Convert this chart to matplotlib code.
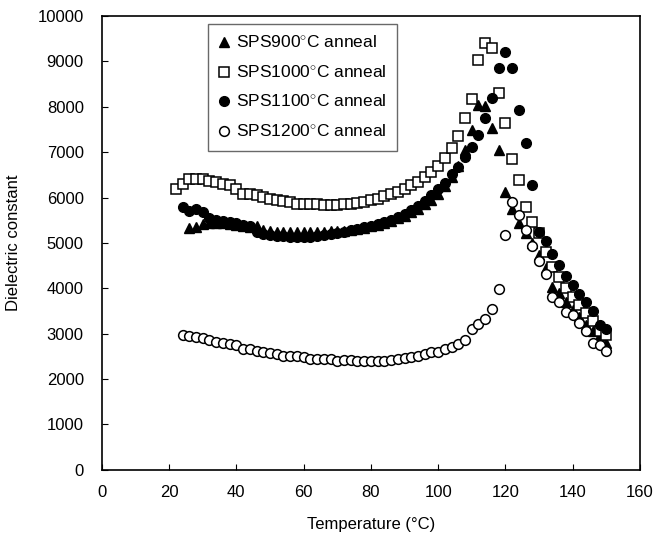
import matplotlib
matplotlib.use('Agg')
import matplotlib.pyplot as plt
import numpy as np

plt.rcParams['font.family'] = ['Liberation Sans', 'DejaVu Sans']
plt.rcParams['mathtext.fontset'] = 'custom'
plt.rcParams['mathtext.rm'] = 'Liberation Sans'

# SPS900C anneal (triangles)
t900 = [26, 28, 30, 32, 34, 36, 38, 40, 42, 44, 46, 48, 50, 52, 54, 56, 58, 60,
        62, 64, 66, 68, 70, 72, 74, 76, 78, 80, 82, 84, 86, 88, 90, 92, 94, 96,
        98, 100, 102, 104, 106, 108, 110, 112, 114, 116, 118, 120, 122, 124, 126,
        128, 130, 132, 134, 136, 138, 140, 142, 144, 146, 148, 150]
e900 = [5320, 5360, 5420, 5440, 5450, 5440, 5420, 5400, 5380, 5350, 5380, 5280,
        5260, 5250, 5240, 5240, 5240, 5240, 5240, 5245, 5250, 5255, 5260, 5275,
        5290, 5310, 5340, 5370, 5400, 5440, 5490, 5540, 5600, 5680, 5760, 5850,
        5950, 6080, 6250, 6450, 6700, 7050, 7490, 8040, 8020, 7530, 7060, 6130,
        5760, 5450, 5210, 4990, 4740, 4440, 4040, 3890, 3690, 3520, 3380, 3190,
        3050, 2970, 2790]

# SPS1000C anneal (open squares)
t1000 = [22, 24, 26, 28, 30, 32, 34, 36, 38, 40, 42, 44, 46, 48, 50, 52, 54, 56,
         58, 60, 62, 64, 66, 68, 70, 72, 74, 76, 78, 80, 82, 84, 86, 88, 90, 92,
         94, 96, 98, 100, 102, 104, 106, 108, 110, 112, 114, 116, 118, 120, 122,
         124, 126, 128, 130, 132, 134, 136, 138, 140, 142, 144, 146, 148, 150]
e1000 = [6200, 6300, 6410, 6420, 6410, 6370, 6340, 6310, 6280, 6180, 6090, 6090,
         6060, 6020, 5980, 5950, 5930, 5900, 5870, 5850, 5850, 5850, 5840, 5840,
         5840, 5850, 5860, 5880, 5910, 5950, 5980, 6030, 6080, 6130, 6200, 6280,
         6350, 6460, 6570, 6700, 6870, 7100, 7350, 7750, 8170, 9040, 9400, 9290,
         8310, 7650, 6840, 6390, 5800, 5470, 5210, 4810, 4480, 4240, 4000, 3820,
         3630, 3450, 3270, 3070, 2970]

# SPS1100C anneal (filled circles)
t1100 = [24, 26, 28, 30, 32, 34, 36, 38, 40, 42, 44, 46, 48, 50, 52, 54, 56, 58,
         60, 62, 64, 66, 68, 70, 72, 74, 76, 78, 80, 82, 84, 86, 88, 90, 92, 94,
         96, 98, 100, 102, 104, 106, 108, 110, 112, 114, 116, 118, 120, 122, 124,
         126, 128, 130, 132, 134, 136, 138, 140, 142, 144, 146, 148, 150]
e1100 = [5790, 5700, 5740, 5690, 5560, 5500, 5490, 5470, 5440, 5400, 5370, 5250,
         5200, 5170, 5160, 5150, 5140, 5130, 5130, 5140, 5150, 5170, 5190, 5220,
         5250, 5280, 5310, 5350, 5380, 5420, 5460, 5510, 5570, 5640, 5720, 5810,
         5920, 6050, 6180, 6320, 6510, 6680, 6900, 7120, 7380, 7750, 8190, 8850,
         9210, 8850, 7930, 7200, 6280, 5250, 5050, 4760, 4520, 4270, 4080, 3870,
         3690, 3500, 3190, 3100]

# SPS1200C anneal (open circles)
t1200 = [24, 26, 28, 30, 32, 34, 36, 38, 40, 42, 44, 46, 48, 50, 52, 54, 56, 58,
         60, 62, 64, 66, 68, 70, 72, 74, 76, 78, 80, 82, 84, 86, 88, 90, 92, 94,
         96, 98, 100, 102, 104, 106, 108, 110, 112, 114, 116, 118, 120, 122, 124,
         126, 128, 130, 132, 134, 136, 138, 140, 142, 144, 146, 148, 150]
e1200 = [2970, 2950, 2935, 2900, 2865, 2825, 2805, 2775, 2750, 2665, 2665, 2610,
         2605, 2585, 2550, 2510, 2510, 2510, 2495, 2440, 2440, 2440, 2440, 2400,
         2420, 2420, 2410, 2400, 2400, 2390, 2410, 2420, 2440, 2475, 2480, 2510,
         2550, 2605, 2590, 2660, 2715, 2770, 2860, 3100, 3210, 3330, 3550, 3990,
         5180, 5900, 5610, 5290, 4930, 4610, 4320, 3820, 3690, 3490, 3410, 3230,
         3050, 2790, 2750, 2620]

labels = ['SPS900$^{\\circ}$C anneal', 'SPS1000$^{\\circ}$C anneal',
          'SPS1100$^{\\circ}$C anneal', 'SPS1200$^{\\circ}$C anneal']

fig = plt.figure(figsize=(6.57, 5.37), dpi=100)
ax = fig.add_axes([0.155, 0.125, 0.819, 0.845])

ax.plot(t900, e900, linestyle='none', marker='^', ms=7.5, mfc='black', mec='black', label=labels[0])
ax.plot(t1000, e1000, linestyle='none', marker='s', ms=6.5, mfc='white', mec='black', mew=1.1, label=labels[1])
ax.plot(t1100, e1100, linestyle='none', marker='o', ms=7, mfc='black', mec='black', label=labels[2])
ax.plot(t1200, e1200, linestyle='none', marker='o', ms=7, mfc='white', mec='black', mew=1.1, label=labels[3])

ax.set_xlim(0, 160)
ax.set_ylim(0, 10000)
ax.set_xticks(np.arange(0, 161, 20))
ax.set_yticks(np.arange(0, 10001, 1000))
ax.tick_params(direction='in', length=4, labelsize=12)
ax.tick_params(axis='x', pad=11)
ax.tick_params(axis='y', pad=13)
for s in ax.spines.values():
    s.set_linewidth(1.2)

ax.set_xlabel('Temperature (°C)', fontsize=12, labelpad=12)
ax.set_ylabel('Dielectric constant', fontsize=12, labelpad=12)

leg = ax.legend(loc='upper left', bbox_to_anchor=(0.197, 0.983), fontsize=12.5,
                frameon=True, fancybox=False, edgecolor='#444444',
                handlelength=0.6, handletextpad=0.4, labelspacing=0.75,
                borderpad=0.62, borderaxespad=0)
leg.get_frame().set_linewidth(1.0)

fig.savefig('out.png', dpi=100)
